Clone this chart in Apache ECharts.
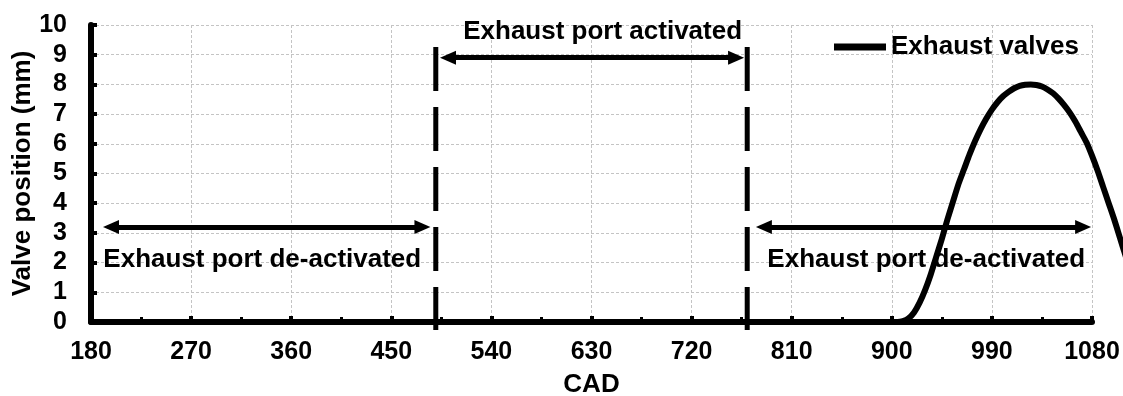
<!DOCTYPE html>
<html>
<head>
<meta charset="utf-8">
<script src="https://cdn.jsdelivr.net/npm/echarts@6/dist/echarts.min.js"></script>
<style>
  html, body { margin: 0; padding: 0; background: #fff; }
  #chart { width: 1123px; height: 396px; }
</style>
</head>
<body>
<div id="chart"></div>
<script>
// Exhaust valve lift against crank angle (CAD, mm)
const cad = [180, 905, 910, 915, 920, 925, 930, 935, 940, 945, 950, 955, 960, 965, 970, 975,
  980, 985, 990, 995, 1000, 1005, 1010, 1015, 1020, 1025, 1030, 1035, 1040, 1045, 1050,
  1055, 1060, 1065, 1070, 1075, 1080, 1085, 1090, 1095, 1100, 1105, 1110, 1115];
const lift = [0, 0, 0.03, 0.12, 0.32, 0.65, 1.08, 1.6, 2.2, 2.8, 3.45, 4.05, 4.65, 5.15, 5.65, 6.1,
  6.5, 6.85, 7.15, 7.4, 7.6, 7.75, 7.87, 7.95, 7.99, 8.0, 7.98, 7.93, 7.83, 7.7, 7.52,
  7.3, 7.05, 6.75, 6.4, 6.05, 5.6, 5.1, 4.55, 4.0, 3.45, 2.85, 2.25, 1.65];

// Axis ranges
const xMin = 180, xMax = 1080, xStep = 90;
const yMin = 0, yMax = 10, yStep = 1;

// Port phase boundaries (CAD) and the vertical extent of their markers (mm)
const phaseBounds = [490, 770];
const boundRange = [9.26, -0.27];

// Double-headed arrows spanning each phase
const arrowFrom = [198, 501, 785];
const arrowTo = [478, 760, 1072];
const arrowLevel = [3.2, 8.9, 3.2];

// Phase captions
const noteText = ['Exhaust port de-activated', 'Exhaust port activated', 'Exhaust port de-activated'];
const noteX = [334, 640, 931];
const noteY = [2.08, 9.76, 2.08];

const FONT = 'Liberation Sans, Arial, sans-serif';
const W = 1123, H = 396;
const plot = { left: 91, right: 31, top: 25, bottom: 74 };

// The lift trace runs on past 1080 CAD to the edge of the canvas, so it sits on a
// second, hidden cartesian that shares the main one's scale but reaches the right edge.
const plotW = W - plot.left - plot.right;
const xMaxWide = xMin + (xMax - xMin) * (W - plot.left) / plotW;

const chart = echarts.init(document.getElementById('chart'), null, { renderer: 'canvas' });

const boldText = size => ({ fontFamily: FONT, fontWeight: 'bold', fontSize: size, color: '#000' });
const gridLine = { show: true, lineStyle: { color: '#c4c4c4', width: 1, type: [3, 2] } };

const boundSeries = phaseBounds.map((x, i) => ({
  name: 'bound' + i,
  type: 'line',
  data: boundRange.map(v => [x, v]),
  symbol: 'none',
  clip: false,
  silent: true,
  z: 3,
  lineStyle: { color: '#000', width: 5, type: [44, 16], cap: 'butt' }
}));

const option = {
  animation: false,
  backgroundColor: '#fff',
  grid: [
    { left: plot.left, right: plot.right, top: plot.top, bottom: plot.bottom, outerBoundsMode: 'none', containLabel: false },
    { left: plot.left, right: 0, top: plot.top, bottom: plot.bottom, outerBoundsMode: 'none', containLabel: false }
  ],
  legend: {
    data: ['Exhaust valves'],
    left: 829,
    top: 29,
    icon: 'rect',
    itemWidth: 52,
    itemHeight: 7,
    textStyle: boldText(26)
  },
  xAxis: [
    {
      gridIndex: 0,
      type: 'value',
      min: xMin,
      max: xMax,
      interval: xStep,
      name: 'CAD',
      nameLocation: 'middle',
      nameGap: 50,
      nameMoveOverlap: false,
      nameTextStyle: boldText(26),
      axisLine: { show: true, onZero: false, lineStyle: { color: '#000', width: 6 } },
      axisTick: { show: true, inside: true, length: 6, lineStyle: { color: '#000', width: 4 } },
      minorTick: { show: true, splitNumber: 2, length: 5, lineStyle: { color: '#000', width: 3 } },
      axisLabel: Object.assign({ margin: 18, formatter: v => String(v) }, boldText(25)),
      splitLine: gridLine
    },
    {
      gridIndex: 1,
      type: 'value',
      min: xMin,
      max: xMaxWide,
      show: false
    }
  ],
  yAxis: [
    {
      gridIndex: 0,
      type: 'value',
      min: yMin,
      max: yMax,
      interval: yStep,
      name: 'Valve position (mm)',
      nameLocation: 'middle',
      nameGap: 55,
      nameMoveOverlap: false,
      nameTextStyle: boldText(26),
      axisLine: { show: true, lineStyle: { color: '#000', width: 6 } },
      axisTick: { show: true, inside: true, length: 6, lineStyle: { color: '#000', width: 4 } },
      axisLabel: Object.assign({ margin: 24, formatter: v => String(v) }, boldText(25)),
      splitLine: gridLine
    },
    {
      gridIndex: 1,
      type: 'value',
      min: yMin,
      max: yMax,
      show: false
    }
  ],
  series: [
    ...boundSeries,
    {
      name: 'arrows',
      type: 'line',
      data: [],
      silent: true,
      markLine: {
        silent: true,
        animation: false,
        symbol: ['triangle', 'triangle'],
        symbolSize: [14, 16],
        label: { show: false },
        lineStyle: { color: '#000', width: 5, type: 'solid' },
        data: arrowFrom.map((x0, i) => [
          { coord: [x0, arrowLevel[i]] },
          { coord: [arrowTo[i], arrowLevel[i]] }
        ])
      }
    },
    {
      name: 'notes',
      type: 'scatter',
      silent: true,
      clip: false,
      symbolSize: 0,
      itemStyle: { color: '#000' },
      z: 4,
      data: noteText.map((t, i) => ({ value: [noteX[i], noteY[i]], name: t })),
      label: Object.assign({
        show: true,
        position: 'inside',
        formatter: p => p.name,
        opacity: 1,
        textBorderWidth: 0,
        textShadowBlur: 0
      }, boldText(26))
    },
    {
      name: 'Exhaust valves',
      type: 'line',
      xAxisIndex: 1,
      yAxisIndex: 1,
      data: cad.map((x, i) => [x, lift[i]]),
      symbol: 'none',
      smooth: 0.25,
      clip: false,
      z: 5,
      itemStyle: { color: '#000' },
      lineStyle: { color: '#000', width: 6, join: 'round' }
    }
  ]
};

chart.setOption(option);
</script>
</body>
</html>
